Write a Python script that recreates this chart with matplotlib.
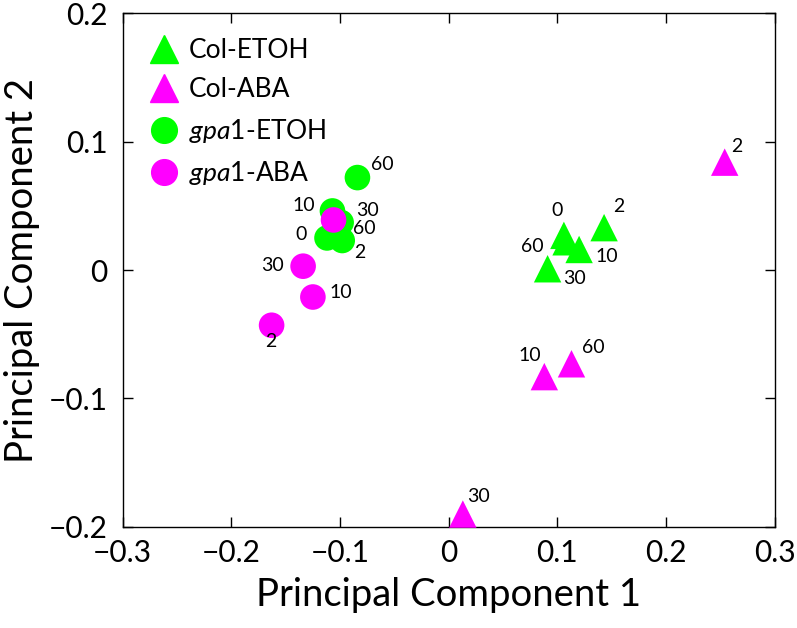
import matplotlib
matplotlib.use("Agg")
import matplotlib.pyplot as plt
from matplotlib.lines import Line2D

plt.rcParams['font.family'] = ['Lato', 'DejaVu Sans']
plt.rcParams['mathtext.fontset'] = 'custom'
plt.rcParams['mathtext.it'] = 'Lato:italic'
plt.rcParams['mathtext.rm'] = 'Lato'

green = '#00ff00'
magenta = '#ff00ff'

# Col-ETOH (triangles)
col_etoh_x = [0.106, 0.108, 0.120, 0.143, 0.091]
col_etoh_y = [0.027, 0.022, 0.016, 0.033, 0.001]
col_etoh_lab = ['0', '60', '10', '2', '30']
col_etoh_off = [(-7, -25), (-34, 5), (28, 7), (15, -21), (27, 10)]

# Col-ABA (triangles)
col_aba_x = [0.254, 0.088, 0.113, 0.013]
col_aba_y = [0.084, -0.083, -0.073, -0.190]
col_aba_lab = ['2', '10', '60', '30']
col_aba_off = [(12, -16), (-15, -21), (22, -16), (16, -18)]

# gpa1-ETOH (circles)
gpa_etoh_x = [-0.084, -0.107, -0.099, -0.112, -0.098]
gpa_etoh_y = [0.072, 0.046, 0.037, 0.025, 0.023]
gpa_etoh_lab = ['60', '10', '30', '0', '2']
gpa_etoh_off = [(25, -13), (-29, -5), (26, -12), (-26, -3), (18, 12)]

# gpa1-ABA (circles)
gpa_aba_x = [-0.106, -0.134, -0.125, -0.163]
gpa_aba_y = [0.039, 0.003, -0.021, -0.043]
gpa_aba_lab = ['60', '30', '10', '2']
gpa_aba_off = [(31, 9), (-31, -1), (28, -5), (-1, 16)]

fig = plt.figure(figsize=(7.97, 6.28), dpi=100)
ax = fig.add_axes([0.154, 0.161, 0.818, 0.818])

groups = [
    (col_etoh_x, col_etoh_y, col_etoh_lab, col_etoh_off, '^', green),
    (col_aba_x, col_aba_y, col_aba_lab, col_aba_off, '^', magenta),
    (gpa_etoh_x, gpa_etoh_y, gpa_etoh_lab, gpa_etoh_off, 'o', green),
    (gpa_aba_x, gpa_aba_y, gpa_aba_lab, gpa_aba_off, 'o', magenta),
]

for xs, ys, labs, offs, mk, c in groups:
    s = 390 if mk == '^' else 340
    ax.scatter(xs, ys, s=s, marker=mk, color=c, edgecolors='none',
               clip_on=False, zorder=3)
    for x, y, t, (dx, dy) in zip(xs, ys, labs, offs):
        ax.annotate(t, (x, y), xytext=(dx, -dy), textcoords='offset pixels',
                    ha='center', va='center', fontsize=14, zorder=4)

ax.set_xlim(-0.3, 0.3)
ax.set_ylim(-0.2, 0.2)
ax.set_xticks([-0.3, -0.2, -0.1, 0, 0.1, 0.2, 0.3])
ax.set_yticks([-0.2, -0.1, 0, 0.1, 0.2])
ax.set_xticklabels(['\u22120.3', '\u22120.2', '\u22120.1', '0', '0.1', '0.2', '0.3'])
ax.set_yticklabels(['\u22120.2', '\u22120.1', '0', '0.1', '0.2'])
ax.tick_params(direction='in', top=True, right=True, length=7, width=1,
               labelsize=21.5)
ax.tick_params(axis='x', pad=9)
ax.tick_params(axis='y', pad=11)
for sp in ax.spines.values():
    sp.set_linewidth(1)

ax.set_xlabel('Principal Component 1', fontsize=27.5, labelpad=7)
ax.set_ylabel('Principal Component 2', fontsize=27.5, labelpad=6)

handles = [
    Line2D([], [], marker='^', color=green, ls='none', markersize=20),
    Line2D([], [], marker='^', color=magenta, ls='none', markersize=20),
    Line2D([], [], marker='o', color=green, ls='none', markersize=18.5),
    Line2D([], [], marker='o', color=magenta, ls='none', markersize=18.5),
]
names = ['Col-ETOH', 'Col-ABA', r'$\mathit{gpa1}$-ETOH', r'$\mathit{gpa1}$-ABA']
ax.legend(handles, names, loc='upper left', bbox_to_anchor=(0.035, 0.952),
          frameon=False, fontsize=19, handletextpad=0.25, labelspacing=0.55,
          borderaxespad=0, borderpad=0, handlelength=1.4)

fig.savefig('out.png', dpi=100)
